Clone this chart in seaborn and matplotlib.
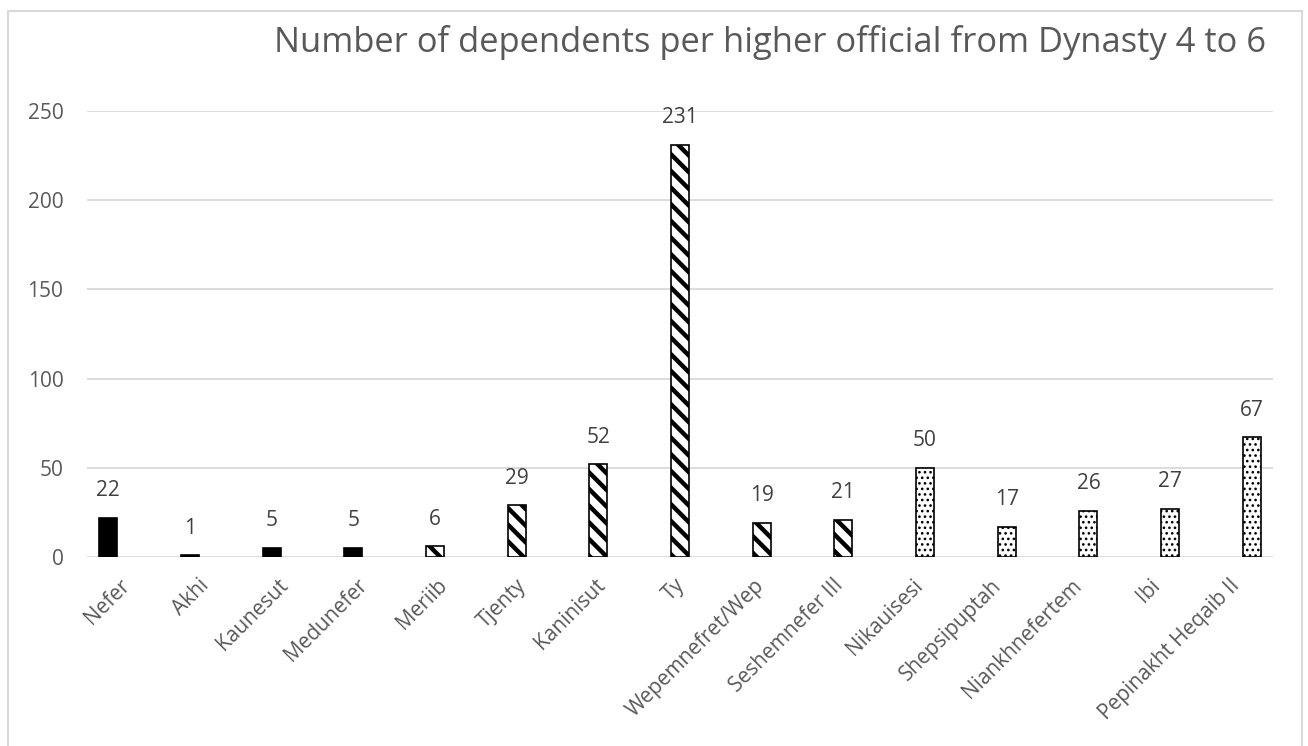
import matplotlib
matplotlib.use("Agg")
import matplotlib.pyplot as plt
import seaborn as sns
import pandas as pd
from matplotlib.patches import Rectangle

officials = ["Nefer", "Akhi", "Kaunesut", "Medunefer", "Meriib", "Tjenty", "Kaninisut",
             "Ty", "Wepemnefret/Wep", "Seshemnefer III", "Nikauisesi", "Shepsipuptah",
             "Niankhnefertem", "Ibi", "Pepinakht Heqaib II"]
dependents = [22, 1, 5, 5, 6, 29, 52, 231, 19, 21, 50, 17, 26, 27, 67]
dynasty = ["4", "4", "4", "4", "5", "5", "5", "5", "5", "5", "6", "6", "6", "6", "6"]
yticks = [0, 50, 100, 150, 200, 250]
title = "Number of dependents per higher official from Dynasty 4 to 6"

df = pd.DataFrame({"official": officials, "dependents": dependents, "dynasty": dynasty})

sns.set_theme(style="white")
plt.rcParams["font.family"] = ["Open Sans", "DejaVu Sans"]

fig = plt.figure(figsize=(13.08, 7.46), dpi=100)
ax = fig.add_axes([87/1308, 1-557/746, (1273-87)/1308, (557-111)/746])

sns.barplot(data=df, x="official", y="dependents", hue="dynasty", dodge=False,
            palette={"4": "black", "5": "white", "6": "white"}, width=0.22,
            edgecolor="black", linewidth=1.2, legend=False, ax=ax)

hatch_map = {"4": "", "5": "\\\\", "6": "..."}
for patch, dyn in zip(sorted(ax.patches, key=lambda p: p.get_x()), dynasty):
    patch.set_hatch(hatch_map[dyn])
    try:
        patch.set_hatch_linewidth(3.2 if dyn == "5" else 1.1)
    except AttributeError:
        pass

for i, v in enumerate(dependents):
    ax.annotate(str(v), (i, v), xytext=(0, 12), textcoords="offset points",
                ha="center", va="bottom", fontsize=15, color="#404040")

ax.set_ylim(0, 250)
ax.set_xlim(-0.26, 14.26)
ax.set_yticks(yticks)
ax.yaxis.grid(True, color="#d9d9d9", linewidth=1.3)
ax.set_axisbelow(True)
for s in ax.spines.values():
    s.set_visible(False)
ax.set_xlabel("")
ax.set_ylabel("")
ax.tick_params(axis="y", length=0, pad=17, labelsize=15, labelcolor="#595959")
ax.set_xticks(range(len(officials)))
ax.set_xticklabels([])
ax.tick_params(axis="x", length=0)

# rotated category labels (slight drift as in the original)
for i, name in enumerate(officials):
    ax.annotate(name, (i, 0), xycoords=("data", "axes fraction"),
                xytext=(11 - 2.4 * i, -18), textcoords="offset pixels",
                rotation=45, ha="right", va="top", rotation_mode="anchor",
                fontsize=15, color="#595959")

fig.text(1266/1308, 1-42/746, title, ha="right", va="center", fontsize=24.8, color="#595959")

fig.patches.append(Rectangle((8/1308, -0.05), (1302-8)/1308, 1.05 - 11/746,
                             transform=fig.transFigure, fill=False,
                             edgecolor="#d9d9d9", linewidth=1.5))

fig.savefig("out.png", dpi=100)
